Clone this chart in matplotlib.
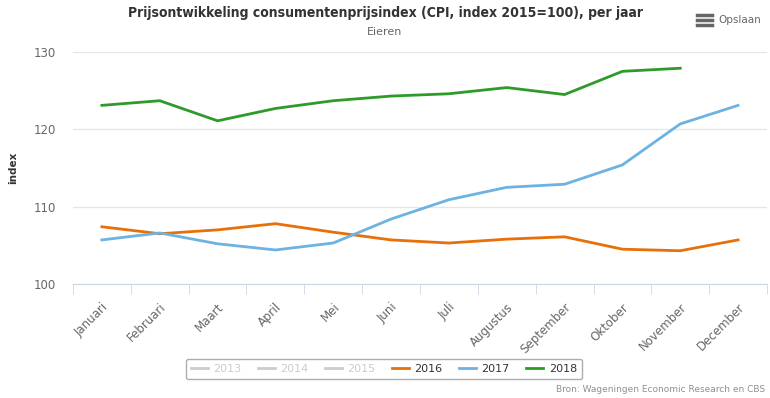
import matplotlib.pyplot as plt
import numpy as np

maanden = ['Januari', 'Februari', 'Maart', 'April', 'Mei', 'Juni', 'Juli',
           'Augustus', 'September', 'Oktober', 'November', 'December']
cpi_2016 = [107.4, 106.5, 107.0, 107.8, 106.7, 105.7, 105.3, 105.8, 106.1, 104.5, 104.3, 105.7]
cpi_2017 = [105.7, 106.6, 105.2, 104.4, 105.3, 108.4, 110.9, 112.5, 112.9, 115.4, 120.7, 123.1]
cpi_2018 = [123.1, 123.7, 121.1, 122.7, 123.7, 124.3, 124.6, 125.4, 124.5, 127.5, 127.9]
verborgen = ['2013', '2014', '2015']

fig = plt.figure(figsize=(7.7, 3.98), dpi=100)
ax = fig.add_axes([73 / 770, 1 - 284 / 398, 694 / 770, 232 / 398])

x = np.arange(len(maanden))
ax.plot(x, cpi_2016, color='#e8700a', lw=2, label='2016')
ax.plot(x, cpi_2017, color='#6cb2e2', lw=2, label='2017')
ax.plot(x[:len(cpi_2018)], cpi_2018, color='#2e9a2a', lw=2, label='2018')

ax.set_xlim(-0.5, 11.5)
ax.set_ylim(100, 130)
ax.set_yticks([100, 110, 120, 130])
ax.grid(axis='y', color='#e6e6e6', lw=1)
ax.set_axisbelow(True)
for s in ['top', 'right', 'left']:
    ax.spines[s].set_visible(False)
ax.spines['bottom'].set_color('#ccd6eb')

ax.set_xticks(x)
ax.set_xticklabels(maanden, rotation=45, ha='right', rotation_mode='anchor')
ax.set_xticks(np.arange(-0.5, 12, 1), minor=True)
ax.tick_params(axis='x', which='major', length=0, pad=12, labelsize=8.5, labelcolor='#666666')
ax.tick_params(axis='x', which='minor', length=7, color='#ccd6eb')
ax.tick_params(axis='y', length=0, labelsize=8.5, labelcolor='#666666', pad=12)

fig.text(13 / 770, 1 - 168 / 398, 'index', rotation=90, ha='center', va='center',
         fontsize=7.5, fontweight='bold', color='#333333')

fig.text(0.5, 1 - 13 / 398, 'Prijsontwikkeling consumentenprijsindex (CPI, index 2015=100), per jaar',
         ha='center', va='center', fontsize=10, fontweight='bold', color='#333333',
         fontstretch='condensed')
fig.text(0.5, 1 - 32 / 398, 'Eieren', ha='center', va='center', fontsize=8, color='#666666')

# menu-knop rechtsboven
for dy in (15, 20, 25):
    fig.add_artist(plt.Line2D([697 / 770, 712 / 770], [1 - dy / 398] * 2, color='#666666', lw=2.5))
fig.text(718 / 770, 1 - 20 / 398, 'Opslaan', ha='left', va='center', fontsize=7.5, color='#666666')

fig.text(765 / 770, 1 - 390 / 398, 'Bron: Wageningen Economic Research en CBS',
         ha='right', va='center', fontsize=6.5, color='#909090')

handles, labels = [], []
for jaar in verborgen:
    h, = ax.plot([], [], color='#cccccc', lw=2)
    handles.append(h)
    labels.append(jaar)
hs, ls = ax.get_legend_handles_labels()
handles += hs[:3]
labels += ls[:3]
leg = fig.legend(handles, labels, loc='center', bbox_to_anchor=(384 / 770, 1 - 369 / 398),
                 ncol=6, fontsize=8, frameon=True, handlelength=1.5, handletextpad=0.5,
                 columnspacing=1.5, borderpad=0.45, fancybox=True)
leg.get_frame().set_edgecolor('#999999')
leg.get_frame().set_linewidth(1)
for t, lab in zip(leg.get_texts(), labels):
    t.set_color('#cccccc' if lab in verborgen else '#333333')

fig.savefig('out.png', dpi=100)
